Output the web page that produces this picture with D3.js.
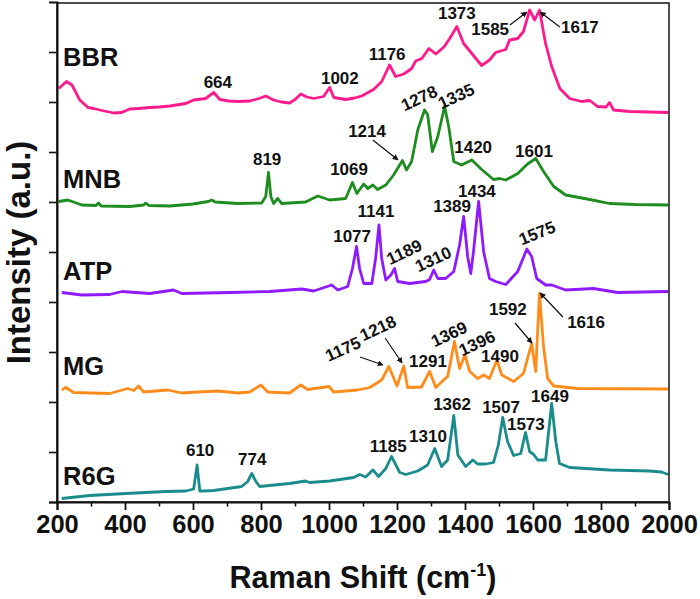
<!DOCTYPE html>
<html><head><meta charset="utf-8">
<script src="https://cdn.jsdelivr.net/npm/d3@7"></script>
<style>html,body{margin:0;padding:0;background:#fff;}svg{display:block;font-family:"Liberation Sans",Arial,sans-serif;font-weight:bold;}</style>
</head><body><svg id="c" width="700" height="599"></svg>
<script>
// ---- data (Raman shift cm^-1, intensity in offset units) ----
const seriesNames = ["BBR","MNB","ATP","MG","R6G"];
const seriesColors = ["#ff1a8c","#1e8c1e","#8f1aff","#ff8c1a","#1a8c8c"];
const bbr = [[205,8.27],[228,8.41],[244,8.34],[267,8.04],[291,7.89],[308,7.87],[332,7.83],[367,7.78],[390,7.79],[414,7.86],[440,7.87],[473,7.89],[500,7.9],[532,7.92],[560,7.95],[579,7.97],[602,8.04],[637,8.07],[661,8.19],[679,8.05],[705,8.02],[732,8.01],[767,8.02],[790,8.06],[814,8.12],[837,8.04],[860,8.0],[884,7.98],[900,8.05],[917,8.16],[935,8.1],[955,8.07],[984,8.11],[1002,8.29],[1014,8.09],[1049,8.05],[1075,8.08],[1096,8.12],[1131,8.25],[1155,8.41],[1178,8.74],[1196,8.51],[1220,8.56],[1243,8.67],[1255,8.82],[1273,8.87],[1294,9.07],[1314,8.96],[1338,9.10],[1355,9.27],[1376,9.51],[1396,9.17],[1420,8.97],[1449,8.73],[1472,8.84],[1490,8.99],[1520,9.05],[1531,9.24],[1555,9.27],[1572,9.41],[1590,9.84],[1605,9.64],[1619,9.84],[1637,9.17],[1655,8.71],[1679,8.27],[1708,8.07],[1743,8.01],[1767,8.03],[1790,7.91],[1815,7.9],[1825,7.99],[1837,7.84],[1884,7.81],[1940,7.8],[1998,7.79]];
const mnb = [[205,6.01],[232,6.04],[273,5.94],[315,5.93],[322,5.98],[330,5.92],[414,5.91],[455,5.94],[461,5.98],[470,5.93],[532,5.92],[600,5.96],[645,6.01],[655,6.04],[665,6.0],[732,5.97],[802,5.98],[814,6.11],[822,6.59],[829,6.11],[837,5.97],[849,6.07],[861,5.97],[931,6.0],[967,6.12],[1002,6.04],[1049,6.07],[1069,6.39],[1082,6.17],[1102,6.36],[1114,6.27],[1129,6.34],[1143,6.25],[1167,6.34],[1190,6.54],[1216,6.83],[1228,6.64],[1243,6.81],[1261,7.44],[1281,7.84],[1290,7.75],[1304,7.01],[1320,7.31],[1340,7.91],[1352,7.51],[1367,6.81],[1390,6.74],[1420,6.84],[1449,6.65],[1484,6.45],[1502,6.47],[1520,6.44],[1555,6.57],[1584,6.76],[1608,6.87],[1631,6.61],[1661,6.31],[1696,6.14],[1767,6.05],[1825,5.97],[1900,5.95],[1998,5.94]];
const atp = [[214,4.19],[273,4.14],[355,4.15],[391,4.21],[473,4.17],[543,4.24],[567,4.17],[708,4.19],[826,4.21],[920,4.26],[955,4.22],[1008,4.34],[1026,4.24],[1055,4.31],[1069,4.67],[1081,5.11],[1090,4.67],[1102,4.37],[1126,4.37],[1137,4.87],[1147,5.54],[1155,4.87],[1167,4.44],[1182,4.54],[1193,4.67],[1202,4.41],[1237,4.37],[1284,4.41],[1296,4.45],[1308,4.64],[1320,4.47],[1343,4.47],[1367,4.61],[1384,5.14],[1396,5.71],[1408,4.9],[1417,4.57],[1425,5.01],[1440,6.01],[1455,5.0],[1472,4.47],[1490,4.41],[1520,4.35],[1555,4.61],[1582,5.06],[1596,4.91],[1611,4.47],[1637,4.34],[1655,4.34],[1696,4.24],[1778,4.27],[1849,4.19],[1998,4.21]];
const mg = [[214,2.24],[226,2.29],[249,2.19],[355,2.17],[408,2.27],[426,2.23],[440,2.32],[455,2.2],[526,2.24],[567,2.18],[614,2.2],[673,2.22],[732,2.18],[767,2.2],[800,2.34],[820,2.2],[884,2.18],[917,2.34],[937,2.25],[1000,2.31],[1014,2.2],[1084,2.24],[1120,2.29],[1155,2.44],[1176,2.71],[1200,2.32],[1220,2.72],[1231,2.29],[1272,2.3],[1296,2.61],[1314,2.29],[1337,2.44],[1349,2.51],[1369,3.21],[1384,2.67],[1400,2.94],[1414,2.61],[1437,2.47],[1455,2.54],[1472,2.47],[1494,2.84],[1508,2.54],[1543,2.41],[1572,2.57],[1596,3.17],[1608,2.61],[1619,4.17],[1631,3.11],[1643,2.47],[1661,2.32],[1731,2.27],[1998,2.26]];
const r6g = [[214,0.07],[296,0.13],[402,0.17],[520,0.21],[579,0.22],[602,0.26],[612,0.74],[620,0.22],[632,0.22],[661,0.23],[743,0.31],[761,0.41],[773,0.57],[785,0.41],[796,0.31],[884,0.37],[931,0.42],[943,0.39],[1002,0.42],[1073,0.49],[1090,0.55],[1108,0.5],[1129,0.64],[1146,0.51],[1167,0.67],[1184,0.91],[1208,0.59],[1226,0.55],[1261,0.62],[1290,0.74],[1311,1.07],[1331,0.71],[1349,0.84],[1367,1.73],[1379,0.94],[1402,0.71],[1423,0.84],[1437,0.76],[1461,0.76],[1484,0.79],[1498,1.14],[1511,1.69],[1525,1.21],[1543,0.93],[1564,0.97],[1578,1.39],[1590,1.01],[1602,0.95],[1614,0.84],[1637,0.84],[1655,1.97],[1667,1.21],[1678,0.77],[1708,0.69],[1825,0.64],[1943,0.62],[1978,0.6],[1998,0.55]];
const seriesData = [bbr, mnb, atp, mg, r6g];
const seriesLabelLevel = [8.72, 6.28, 4.44, 2.54, 0.34];
const xMajorTicks = [200,400,600,800,1000,1200,1400,1600,1800,2000];
const xMinorTicks = [300,500,700,900,1100,1300,1500,1700,1900];
const yTicks = [0,1,2,3,4,5,6,7,8,9];
// peak annotations: [text, shift, level]
const peakLabels = [
 ["664",673,8.28],["1002",1032,8.36],["1176",1171,8.84],["1373",1376,9.66],["1585",1474,9.34],["1617",1738,9.38],
 ["819",818,6.74],["1069",1059,6.54],["1214",1112,7.3],["1420",1424,6.98],["1601",1603,6.9],
 ["1077",1068,5.2],["1141",1138,5.7],["1389",1362,5.8],["1434",1435,6.1],
 ["1291",1291,2.7],["1490",1503,2.8],["1592",1526,3.74],["1616",1756,3.48],
 ["610",621,0.92],["774",774,0.74],["1185",1174,1.0],["1310",1291,1.2],["1362",1362,1.84],["1507",1506,1.78],["1573",1579,1.44],["1649",1650,2.0]
];
// rotated labels: [text, centre shift, centre level, angle]
const rotLabels = [
 ["1278",1265,8.08,-25],["1335",1374,8.12,-25],
 ["1189",1221,5.0,-25],["1310",1306,4.86,-25],["1575",1612,5.38,-22],
 ["1175",1041,3.06,-24],["1218",1144,3.48,-25],["1369",1353,3.36,-25],["1396",1435,3.18,-25]
];
// arrows: [fromShift, fromLevel, toShift, toLevel]
const arrows = [
 [1532,9.54,1582,9.8],[1679,9.5,1621,9.8],
 [1129,7.24,1203,6.84],
 [1091,2.9,1159,2.74],[1165,3.28,1215,2.78],[1547,3.58,1597,3.18],[1688,3.7,1621,4.18]
];

const W=700,H=599, L=57, R=669, T=3, B=502;
const svg = d3.select("#c");
const x = d3.scaleLinear().domain([200,2000]).range([L,R]);
const y = d3.scaleLinear().domain([0,10]).range([B,B-500]);

svg.append("defs").append("marker").attr("id","ah").attr("viewBox","0 0 10 10")
  .attr("refX",9).attr("refY",5).attr("markerWidth",6).attr("markerHeight",6)
  .attr("orient","auto").attr("markerUnits","userSpaceOnUse")
  .append("path").attr("d","M0,0 L10,5 L0,10 z").attr("fill","#111");

const line = d3.line().x(d=>x(d[0])).y(d=>y(d[1]));
seriesData.forEach((s,i)=>{
  svg.append("path").datum(s).attr("d",line).attr("fill","none")
    .attr("stroke",seriesColors[i]).attr("stroke-width",2.8).attr("stroke-linejoin","round");
});

// frame
svg.append("rect").attr("x",L).attr("y",T).attr("width",R-L).attr("height",B-T)
  .attr("fill","none").attr("stroke","#222").attr("stroke-width",1.6);

// axes
const xAxis = d3.axisBottom(x).tickValues(xMajorTicks).tickSize(8).tickPadding(5).tickFormat(d3.format("d"));
const gx = svg.append("g").attr("transform",`translate(0,${B})`).call(xAxis);
gx.select(".domain").attr("stroke","#111").attr("stroke-width",2);
gx.selectAll(".tick line").attr("stroke","#111").attr("stroke-width",1.8);
gx.selectAll(".tick text").attr("font-size",25.5).attr("font-weight","bold").attr("fill","#111")
  .attr("font-family","Liberation Sans, Arial, sans-serif");
const gxm = svg.append("g").attr("transform",`translate(0,${B})`)
  .call(d3.axisBottom(x).tickValues(xMinorTicks).tickSize(4.5).tickFormat(""));
gxm.select(".domain").remove();
gxm.selectAll(".tick line").attr("stroke","#111").attr("stroke-width",1.6);

const gy = svg.append("g").attr("transform",`translate(${L},0)`)
  .call(d3.axisLeft(y).tickValues(yTicks).tickSize(8).tickFormat(""));
gy.select(".domain").attr("stroke","#111").attr("stroke-width",2);
gy.selectAll(".tick line").attr("stroke","#111").attr("stroke-width",1.6);

// axis titles
const xt = svg.append("text").attr("x",(L+R)/2).attr("y",588).attr("text-anchor","middle")
  .attr("font-size",30.5).attr("fill","#111");
xt.append("tspan").text("Raman Shift (cm");
xt.append("tspan").attr("font-size",18).attr("dy",-12).text("-1");
xt.append("tspan").attr("dy",12).text(")");
svg.append("text").attr("transform",`translate(30,${(T+B)/2}) rotate(-90)`).attr("text-anchor","middle")
  .attr("font-size",33).attr("fill","#111").text("Intensity (a.u.)");

// series labels
seriesNames.forEach((n,i)=>{
  svg.append("text").attr("x",x(218)).attr("y",y(seriesLabelLevel[i])).attr("font-size",25.5)
    .attr("fill","#111").text(n);
});

// peak labels
peakLabels.forEach(p=>{
  svg.append("text").attr("x",x(p[1])).attr("y",y(p[2])).attr("text-anchor","middle")
    .attr("font-size",17).attr("fill","#111").text(p[0]);
});
rotLabels.forEach(p=>{
  svg.append("text").attr("transform",`translate(${x(p[1])},${y(p[2])}) rotate(${p[3]})`)
    .attr("text-anchor","middle").attr("dy","0.35em")
    .attr("font-size",17).attr("fill","#111").text(p[0]);
});
arrows.forEach(a=>{
  svg.append("line").attr("x1",x(a[0])).attr("y1",y(a[1])).attr("x2",x(a[2])).attr("y2",y(a[3]))
    .attr("stroke","#111").attr("stroke-width",1.2).attr("marker-end","url(#ah)");
});
</script></body></html>
